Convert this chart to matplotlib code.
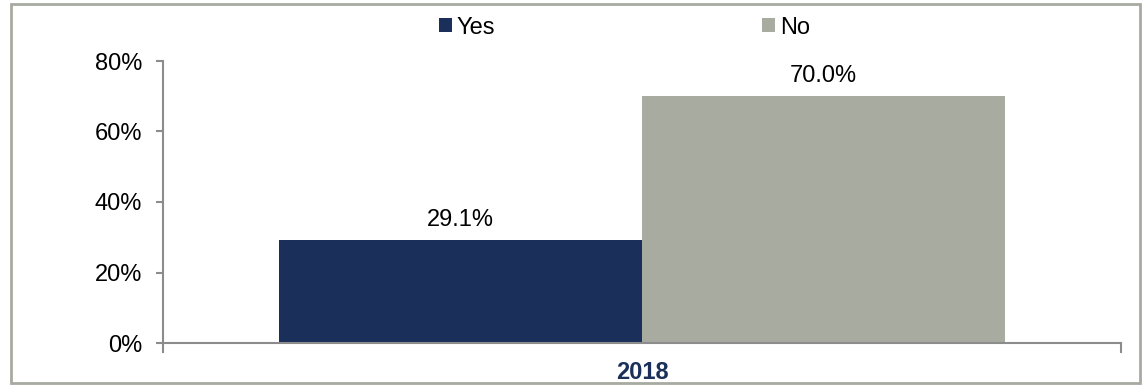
import numpy as np
import matplotlib
matplotlib.use('Agg')
import matplotlib.pyplot as plt
from matplotlib.patches import Rectangle

plt.rcParams['font.family'] = ['Liberation Sans', 'DejaVu Sans']

# data
categories = ['2018']
series_names = ['Yes', 'No']
series_values = [[29.1], [70.0]]
series_colors = ['#1A2F5A', '#A7ABA0']
y_ticks = [0, 20, 40, 60, 80]

fig = plt.figure(figsize=(11.46, 3.87), dpi=100)
ax = fig.add_axes([163 / 1146, 1 - 343 / 387, (1121 - 163) / 1146, (343 - 61) / 387])

# outer frame
fig.patches.append(Rectangle((11 / 1146, 4 / 387), (1140 - 11) / 1146, (383 - 4) / 387,
                             transform=fig.transFigure, fill=False,
                             edgecolor='#A6AAA0', linewidth=2))

x = np.arange(len(categories))
width = 0.379
bars = []
for i, (name, vals, col) in enumerate(zip(series_names, series_values, series_colors)):
    offset = (i - 0.5) * width
    b = ax.bar(x + offset, vals, width, color=col, label=name, zorder=2)
    bars.append(b)
    for rect, v in zip(b, vals):
        ax.annotate(f'{v:.1f}%', (rect.get_x() + rect.get_width() / 2, v),
                    xytext=(0, 7), textcoords='offset points',
                    ha='center', va='bottom', fontsize=17, color='black')

ax.set_xlim(-0.5, len(categories) - 0.5)
ax.set_ylim(0, 80)
ax.set_yticks(y_ticks)
ax.set_yticklabels([f'{t}%' for t in y_ticks], fontsize=17)
ax.set_xticks(x)
ax.set_xticklabels(categories, fontsize=17, fontweight='bold', color='#1A2F5A')

for s in ['top', 'right']:
    ax.spines[s].set_visible(False)
for s in ['left', 'bottom']:
    ax.spines[s].set_color('#8C8C8C')
    ax.spines[s].set_linewidth(1.5)
ax.tick_params(axis='y', direction='out', length=5, width=1.5, color='#8C8C8C', pad=10)
ax.tick_params(axis='x', length=0, pad=13)

# end ticks on the category axis
for xe in [-0.5, len(categories) - 0.5]:
    ax.plot([xe, xe], [0, -2.5], color='#8C8C8C', lw=1.5, clip_on=False)

fig.legend(handles=bars, labels=series_names, loc='upper center',
           bbox_to_anchor=(0.545, 1.012), ncol=2, frameon=False, fontsize=17,
           handlelength=0.55, handleheight=0.55, handletextpad=0.2, columnspacing=11.3)

fig.savefig('out.png', dpi=100)
